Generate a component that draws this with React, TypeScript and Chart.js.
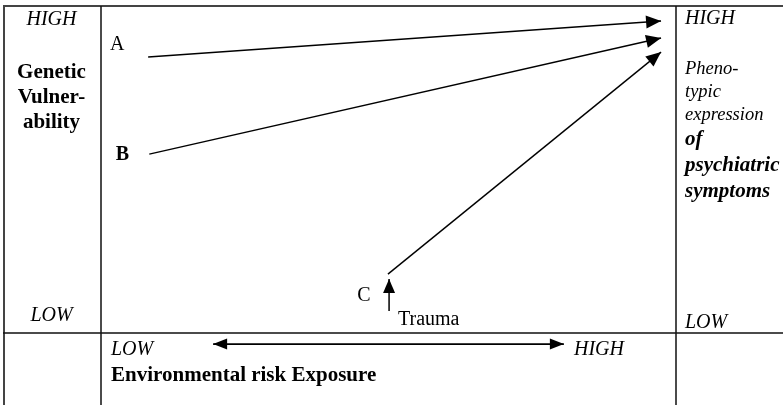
import React, { useEffect, useRef } from "react";
import { Chart, registerables } from "chart.js";

Chart.register(...registerables);

// Diagram values: x = environmental risk exposure (0-100), y = genetic vulnerability / phenotypic expression (0-100)
const pathwayNames = ["A", "B", "C"];
const pathwayStartX = [8.2, 8.4, 49.9];
const pathwayStartY = [84.4, 54.7, 18.0];
const pathwayEndX = [97.4, 97.4, 97.4];
const pathwayEndY = [95.4, 90.2, 85.9];

const traumaX = [50.1, 50.1];
const traumaY = [6.7, 16.5];

const exposureX = [19.5, 80.5];
const exposureY = [-3.4, -3.4];

const SERIF = '"Liberation Serif", "Times New Roman", serif';

type Txt = { t: string; x: number; y: number; f: string; a?: CanvasTextAlign };

const labels: Txt[] = [
  { t: "HIGH", x: 51.5, y: 20, f: `italic 20px ${SERIF}`, a: "center" },
  { t: "Genetic", x: 51.5, y: 73, f: `bold 21px ${SERIF}`, a: "center" },
  { t: "Vulner-", x: 51.5, y: 98, f: `bold 21px ${SERIF}`, a: "center" },
  { t: "ability", x: 51.5, y: 123, f: `bold 21px ${SERIF}`, a: "center" },
  { t: "LOW", x: 51.5, y: 316, f: `italic 20px ${SERIF}`, a: "center" },
  { t: "HIGH", x: 685, y: 19, f: `italic 20px ${SERIF}` },
  { t: "Pheno-", x: 685, y: 69, f: `italic 18.5px ${SERIF}` },
  { t: "typic", x: 685, y: 92, f: `italic 18.5px ${SERIF}` },
  { t: "expression", x: 685, y: 115, f: `italic 18.5px ${SERIF}` },
  { t: "of", x: 685, y: 140, f: `bold italic 21px ${SERIF}` },
  { t: "psychiatric", x: 685, y: 166, f: `bold italic 21px ${SERIF}` },
  { t: "symptoms", x: 685, y: 192, f: `bold italic 21px ${SERIF}` },
  { t: "LOW", x: 685, y: 323, f: `italic 20px ${SERIF}` },
  { t: "LOW", x: 111, y: 350, f: `italic 20px ${SERIF}` },
  { t: "Environmental risk Exposure", x: 111, y: 376, f: `bold 21px ${SERIF}` },
  { t: "HIGH", x: 574, y: 350, f: `italic 20px ${SERIF}` },
  { t: "Trauma", x: 398, y: 320, f: `20px ${SERIF}` },
];

const pathwayLabelStyle = [
  { f: `20px ${SERIF}`, dx: -31, dy: -12 },
  { f: `bold 20px ${SERIF}`, dx: -27, dy: 1 },
  { f: `20px ${SERIF}`, dx: -24, dy: 22 },
];

function drawHead(ctx: CanvasRenderingContext2D, fx: number, fy: number, tx: number, ty: number, len = 15, half = 6) {
  const ang = Math.atan2(ty - fy, tx - fx);
  ctx.save();
  ctx.translate(tx, ty);
  ctx.rotate(ang);
  ctx.beginPath();
  ctx.moveTo(0, 0);
  ctx.lineTo(-len, -half);
  ctx.lineTo(-len, half);
  ctx.closePath();
  ctx.fillStyle = "#000";
  ctx.fill();
  ctx.restore();
}

const diagramPlugin = {
  id: "diagram",
  beforeDatasetsDraw(chart: any) {
    const ctx: CanvasRenderingContext2D = chart.ctx;
    const a = chart.chartArea;
    ctx.save();
    ctx.strokeStyle = "#444";
    ctx.lineWidth = 2;
    ctx.beginPath();
    ctx.moveTo(4, 6);
    ctx.lineTo(4, chart.height);
    ctx.moveTo(3, a.top);
    ctx.lineTo(chart.width, a.top);
    ctx.stroke();
    ctx.strokeStyle = "#111";
    ctx.lineWidth = 1.5;
    ctx.beginPath();
    ctx.moveTo(a.left, a.top);
    ctx.lineTo(a.left, chart.height);
    ctx.moveTo(a.right, a.top);
    ctx.lineTo(a.right, chart.height);
    ctx.moveTo(3, a.bottom);
    ctx.lineTo(chart.width, a.bottom);
    ctx.stroke();
    ctx.restore();
  },
  afterDatasetsDraw(chart: any) {
    const ctx: CanvasRenderingContext2D = chart.ctx;
    ctx.save();
    chart.data.datasets.forEach((ds: any, i: number) => {
      const pts = chart.getDatasetMeta(i).data;
      if (pts.length < 2) return;
      const p0 = pts[0], p1 = pts[pts.length - 1];
      if (ds.arrowEnd) drawHead(ctx, p0.x, p0.y, p1.x, p1.y, ds.headLen || 15, ds.headHalf || 6);
      if (ds.arrowStart) drawHead(ctx, p1.x, p1.y, p0.x, p0.y, ds.headLen || 15, ds.headHalf || 6);
      if (ds.pathIndex !== undefined) {
        const st = pathwayLabelStyle[ds.pathIndex];
        ctx.font = st.f;
        ctx.fillStyle = "#000";
        ctx.textAlign = "center";
        ctx.textBaseline = "middle";
        ctx.fillText(pathwayNames[ds.pathIndex], p0.x + st.dx, p0.y + st.dy);
      }
    });
    ctx.fillStyle = "#000";
    ctx.textBaseline = "middle";
    labels.forEach((l) => {
      ctx.font = l.f;
      ctx.textAlign = l.a || "left";
      ctx.fillText(l.t, l.x, l.y);
    });
    ctx.restore();
  },
};

export default function App() {
  const ref = useRef<HTMLCanvasElement>(null);
  useEffect(() => {
    if (!ref.current) return;
    const datasets: any[] = pathwayNames.map((n, i) => ({
      label: n,
      data: [
        { x: pathwayStartX[i], y: pathwayStartY[i] },
        { x: pathwayEndX[i], y: pathwayEndY[i] },
      ],
      showLine: true,
      borderColor: "#000",
      borderWidth: 1.4,
      pointRadius: 0,
      clip: false,
      arrowEnd: true,
      headLen: 15,
      headHalf: 6.5,
      pathIndex: i,
    }));
    datasets.push({
      label: "Trauma",
      data: traumaX.map((x, i) => ({ x, y: traumaY[i] })),
      showLine: true,
      borderColor: "#000",
      borderWidth: 1.5,
      pointRadius: 0,
      clip: false,
      arrowEnd: true,
      headLen: 14,
      headHalf: 6,
    });
    datasets.push({
      label: "Exposure",
      data: exposureX.map((x, i) => ({ x, y: exposureY[i] })),
      showLine: true,
      borderColor: "#000",
      borderWidth: 1.6,
      pointRadius: 0,
      clip: false,
      arrowEnd: true,
      arrowStart: true,
      headLen: 14,
      headHalf: 5.5,
    });
    const chart = new Chart(ref.current, {
      type: "scatter",
      data: { datasets },
      plugins: [diagramPlugin],
      options: {
        animation: false,
        responsive: false,
        devicePixelRatio: 1,
        layout: { padding: { left: 101, right: 107, top: 6, bottom: 72 } },
        plugins: { legend: { display: false }, tooltip: { enabled: false } },
        scales: {
          x: { type: "linear", min: 0, max: 100, display: false },
          y: { type: "linear", min: 0, max: 100, display: false },
        },
      } as any,
    });
    return () => chart.destroy();
  }, []);
  return (
    <div style={{ position: "fixed", left: 0, top: 0, width: 783, height: 405, background: "#fff" }}>
      <canvas ref={ref} width={783} height={405} />
    </div>
  );
}
